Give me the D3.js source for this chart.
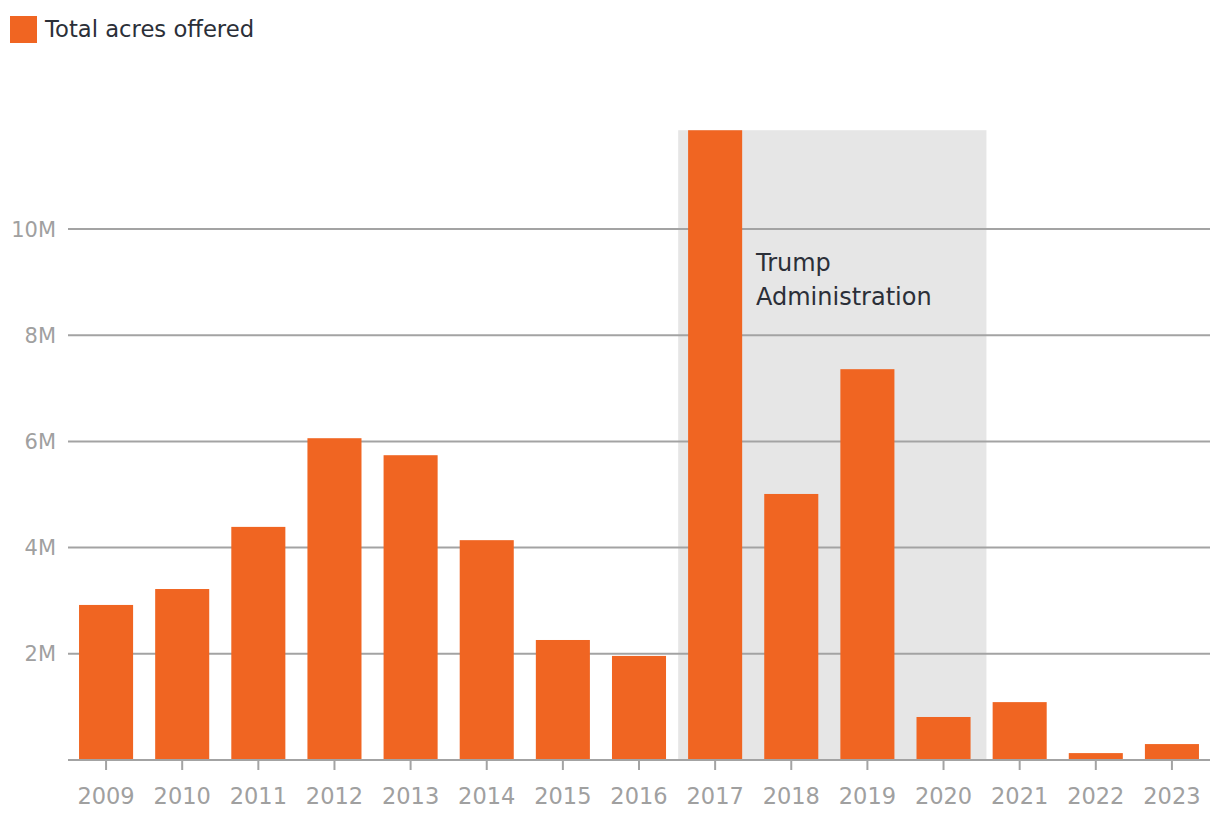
<!DOCTYPE html>
<html><head><meta charset="utf-8">
<script src="https://cdn.jsdelivr.net/npm/d3@7"></script>
<style>body{margin:0;background:#fff;} svg{display:block;font-family:"DejaVu Sans",sans-serif;}</style>
</head><body><svg id="c" width="1220" height="830"></svg>
<script>
const years = ["2009","2010","2011","2012","2013","2014","2015","2016","2017","2018","2019","2020","2021","2022","2023"];
const acres = [2.92e6,3.22e6,4.39e6,6.06e6,5.74e6,4.14e6,2.26e6,1.96e6,11.86e6,5.01e6,7.36e6,0.81e6,1.09e6,0.13e6,0.30e6];
const yTicks = [2e6,4e6,6e6,8e6,10e6];
const yTickLabels = ["2M","4M","6M","8M","10M"];
const shadeYears = ["2017","2020"];
const seriesName = "Total acres offered";
const annotation = ["Trump","Administration"];

const svg = d3.select("#c");
const orange = "#f06522", grid = "#a3a3a3", axisText = "#a0a0a0", dark = "#2b2f38";
const x = d3.scaleBand().domain(years).range([68,1210]).paddingInner(0.29).paddingOuter(0.145);
const y = d3.scaleLinear().domain([0,12e6]).range([760,760-12*53.1]);
const bw = x.bandwidth(), gap = x.step()-bw;

// shade
const sx0 = x(shadeYears[0]) - gap*0.45, sx1 = x(shadeYears[1]) + bw + gap*0.72;
svg.append("rect").attr("x",sx0).attr("y",y(d3.max(acres))).attr("width",sx1-sx0)
  .attr("height",y(0)-y(d3.max(acres))).attr("fill","#e6e6e6");

// grid
svg.append("g").selectAll("line").data(yTicks).join("line")
  .attr("x1",68).attr("x2",1210).attr("y1",d=>y(d)).attr("y2",d=>y(d))
  .attr("stroke",grid).attr("stroke-width",2);
svg.append("g").selectAll("text").data(yTicks).join("text")
  .attr("x",56).attr("y",d=>y(d)).attr("dy","0.36em").attr("text-anchor","end")
  .attr("fill",axisText).attr("font-size",21).text((d,i)=>yTickLabels[i]);

// bars
svg.append("g").selectAll("rect").data(acres).join("rect")
  .attr("x",(d,i)=>x(years[i])).attr("width",bw)
  .attr("y",d=>y(d)).attr("height",d=>y(0)-y(d)).attr("fill",orange);

// x axis
const xa = svg.append("g");
xa.append("line").attr("x1",68).attr("x2",1210).attr("y1",y(0)).attr("y2",y(0)).attr("stroke",grid).attr("stroke-width",2);
xa.selectAll("line.t").data(years).join("line").attr("class","t")
  .attr("x1",d=>x(d)+bw/2).attr("x2",d=>x(d)+bw/2).attr("y1",y(0)).attr("y2",y(0)+10)
  .attr("stroke",grid).attr("stroke-width",2);
xa.selectAll("text").data(years).join("text")
  .attr("x",d=>x(d)+bw/2).attr("y",804).attr("text-anchor","middle")
  .attr("fill",axisText).attr("font-size",22.5).text(d=>d);

// annotation
svg.append("text").attr("x",756).attr("fill",dark).attr("font-size",24)
  .selectAll("tspan").data(annotation).join("tspan")
  .attr("x",756).attr("y",(d,i)=>271+i*34).text(d=>d);

// legend
svg.append("rect").attr("x",10).attr("y",16).attr("width",27).attr("height",27).attr("fill",orange);
svg.append("text").attr("x",45).attr("y",37).attr("fill",dark).attr("font-size",22.7).text(seriesName);
</script></body></html>
